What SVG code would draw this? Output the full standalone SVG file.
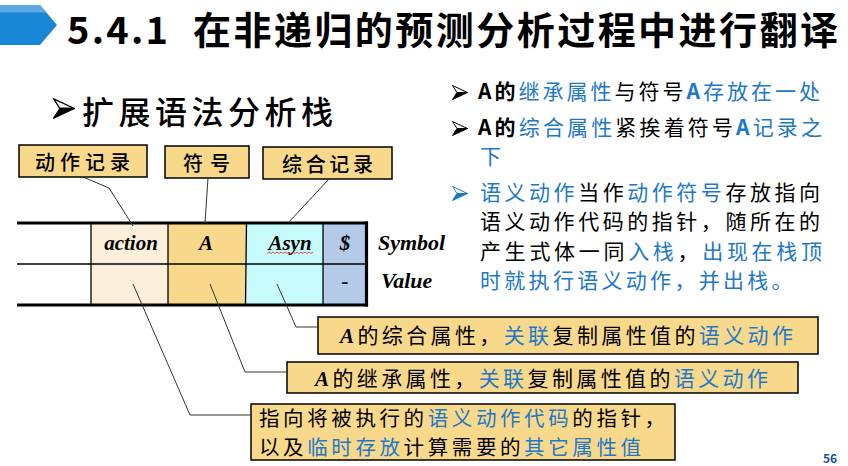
<svg xmlns="http://www.w3.org/2000/svg" width="848" height="466" viewBox="0 0 848 466">
  <style>
    .cjk{font-family:"Noto Sans CJK SC","Noto Sans",sans-serif}
    .ser{font-family:"Liberation Serif","Noto Sans CJK SC",serif;font-style:italic;font-weight:bold}
    .bl{fill:#1E78C8}
    .bk{fill:#000}
    .lbl{fill:#F8D98C;stroke:#000;stroke-width:1.5}
    .conn{fill:none;stroke:#333;stroke-width:1}
    .grid{stroke:#000;stroke-width:1.3}
    .thick{stroke:#000;stroke-width:3.2}
  </style>
  <defs>
    <!-- arrowhead bullet mark, 16 x 15 -->
    <symbol id="arrowhead" viewBox="0 0 16 15" overflow="visible">
      <path d="M0.5,0.5 L15.5,7.5 L5,7.5 Z" fill="#fff" stroke="currentColor" stroke-width="1" stroke-linejoin="round"/>
      <path d="M5,7.5 L15.5,7.5 L0.5,14.5 Z" fill="currentColor" stroke="currentColor" stroke-width="1" stroke-linejoin="round"/>
    </symbol>
  </defs>

  <rect width="848" height="466" fill="#fff"/>

  <!-- title bar -->
  <g id="title">
    <polygon points="0,5 40,5 57,25 40,45 0,45" fill="#1787D6"/>
    <polygon points="0,5 40,5 46.5,12.5 0,12.5" fill="#5DA9E6"/>
    <text class="cjk" x="67" y="44" font-size="38" font-weight="bold" textLength="101" lengthAdjust="spacing">5.4.1</text>
    <text class="cjk" x="193" y="44" font-size="38" font-weight="bold" textLength="645" lengthAdjust="spacing">在非递归的预测分析过程中进行翻译</text>
  </g>

  <!-- section heading -->
  <g id="heading">
    <use href="#arrowhead" x="53" y="98" width="22" height="21" color="#000"/>
    <text class="cjk" x="82" y="124" font-size="32" font-weight="500" textLength="251" lengthAdjust="spacing">扩展语法分析栈</text>
  </g>

  <!-- bullet notes on the right -->
  <g id="notes" class="cjk" font-size="21">
    <use href="#arrowhead" x="452" y="85" width="16" height="15" color="#000"/>
    <text x="478" y="99" textLength="342" lengthAdjust="spacing"><tspan class="bk" font-weight="bold">A的</tspan><tspan class="bl">继承属性</tspan><tspan class="bk">与符号</tspan><tspan class="bl" font-weight="bold">A</tspan><tspan class="bl">存放在一处</tspan></text>

    <use href="#arrowhead" x="452" y="121" width="16" height="15" color="#000"/>
    <text x="478" y="135" textLength="344" lengthAdjust="spacing"><tspan class="bk" font-weight="bold">A的</tspan><tspan class="bl">综合属性</tspan><tspan class="bk">紧挨着符号</tspan><tspan class="bl" font-weight="bold">A</tspan><tspan class="bl">记录之</tspan></text>
    <text class="bl" x="480" y="164">下</text>

    <use href="#arrowhead" x="452" y="186" width="16" height="15" color="#1E78C8"/>
    <text x="480" y="200" textLength="340" lengthAdjust="spacing"><tspan class="bl">语义动作</tspan><tspan class="bk">当作</tspan><tspan class="bl">动作符号</tspan><tspan class="bk">存放指向</tspan></text>
    <text class="bk" x="480" y="229" textLength="340" lengthAdjust="spacing">语义动作代码的指针，随所在的</text>
    <text x="480" y="259" textLength="342" lengthAdjust="spacing"><tspan class="bk">产生式体一同</tspan><tspan class="bl">入栈</tspan><tspan class="bk">，</tspan><tspan class="bl">出现在栈顶</tspan></text>
    <text class="bl" x="480" y="288" letter-spacing="3.3">时就执行语义动作，并出栈。</text>
  </g>

  <!-- record labels above the stack -->
  <g id="label-action">
    <rect class="lbl" x="19" y="145" width="128" height="32"/>
    <text class="cjk bk" x="35" y="170" font-size="20" font-weight="500" textLength="95" lengthAdjust="spacing">动作记录</text>
  </g>
  <g id="label-symbol">
    <rect class="lbl" x="165" y="146" width="84" height="32"/>
    <text class="cjk bk" x="183" y="171" font-size="20" font-weight="500" textLength="47" lengthAdjust="spacing">符号</text>
  </g>
  <g id="label-syn">
    <rect class="lbl" x="263" y="147" width="129" height="32"/>
    <text class="cjk bk" x="282" y="172" font-size="20" font-weight="500" textLength="91" lengthAdjust="spacing">综合记录</text>
  </g>

  <!-- parse stack -->
  <g id="stack">
    <rect x="91" y="223" width="77" height="82" fill="#FDF0DA"/>
    <rect x="168" y="223" width="78" height="82" fill="#F8D98C"/>
    <rect x="246" y="223" width="77" height="82" fill="#C8FBFC"/>
    <rect x="323" y="223" width="43" height="82" fill="#B4CBE8"/>
    <line class="grid" x1="17" y1="264" x2="366" y2="264"/>
    <line class="grid" x1="91" y1="223" x2="91" y2="305"/>
    <line class="grid" x1="168" y1="223" x2="168" y2="305"/>
    <line class="grid" x1="246.5" y1="223" x2="245.5" y2="305"/>
    <line class="grid" x1="323" y1="223" x2="323" y2="305"/>
    <line class="thick" x1="17" y1="223" x2="368" y2="223"/>
    <line class="thick" x1="17" y1="305" x2="368" y2="305"/>
    <line class="thick" x1="366.5" y1="221.5" x2="366.5" y2="306.5"/>
    <g class="ser" font-size="21" text-anchor="middle">
      <text x="131" y="250">action</text>
      <text x="206" y="250">A</text>
      <text x="290" y="250">Asyn</text>
      <text x="345" y="250">$</text>
      <text x="345" y="288">-</text>
    </g>
    <path d="M267,253.5 l2,-1.5 l2,1.5 l2,-1.5 l2,1.5 l2,-1.5 l2,1.5 l2,-1.5 l2,1.5 l2,-1.5 l2,1.5 l2,-1.5 l2,1.5 l2,-1.5 l2,1.5 l2,-1.5 l2,1.5 l2,-1.5 l2,1.5 l2,-1.5 l2,1.5 l2,-1.5 l2,1.5 l2,-1.5" fill="none" stroke="#E02020" stroke-width="0.8"/>
    <text class="ser" x="378" y="250" font-size="22">Symbol</text>
    <text class="ser" x="381" y="288" font-size="22">Value</text>
  </g>

  <!-- annotation boxes -->
  <g id="note-syn" class="cjk" font-size="21">
    <rect class="lbl" x="318" y="317" width="500" height="37"/>
    <text x="340" y="343" textLength="453" lengthAdjust="spacing"><tspan class="ser bk">A</tspan><tspan class="bk">的综合属性，</tspan><tspan class="bl">关联</tspan><tspan class="bk">复制属性值的</tspan><tspan class="bl">语义动作</tspan></text>
  </g>
  <g id="note-inh" class="cjk" font-size="21">
    <rect class="lbl" x="287" y="362" width="511" height="31"/>
    <text x="315" y="386" textLength="453" lengthAdjust="spacing"><tspan class="ser bk">A</tspan><tspan class="bk">的继承属性，</tspan><tspan class="bl">关联</tspan><tspan class="bk">复制属性值的</tspan><tspan class="bl">语义动作</tspan></text>
  </g>
  <g id="note-action" class="cjk" font-size="20.5">
    <rect class="lbl" x="251" y="404" width="424" height="56"/>
    <text x="259" y="426" letter-spacing="3.6"><tspan class="bk">指向将被执行的</tspan><tspan class="bl">语义动作代码</tspan><tspan class="bk">的指针，</tspan></text>
    <text x="259" y="455" letter-spacing="3.6"><tspan class="bk">以及</tspan><tspan class="bl">临时存放</tspan><tspan class="bk">计算需要的</tspan><tspan class="bl">其它属性值</tspan></text>
  </g>

  <!-- connectors -->
  <g id="connectors" class="conn">
    <polyline points="83,177 109,188 133,226"/>
    <polyline points="208,178 205,223"/>
    <polyline points="329,179 288,223"/>
    <polyline points="133,284 190,415 251,415"/>
    <polyline points="210,284 245,372 287,372"/>
    <polyline points="277,284 296,327 318,327"/>
  </g>

  <!-- page number -->
  <text id="page" class="cjk" x="823" y="463" font-size="12" font-weight="bold" fill="#1F4E9A">56</text>
</svg>
